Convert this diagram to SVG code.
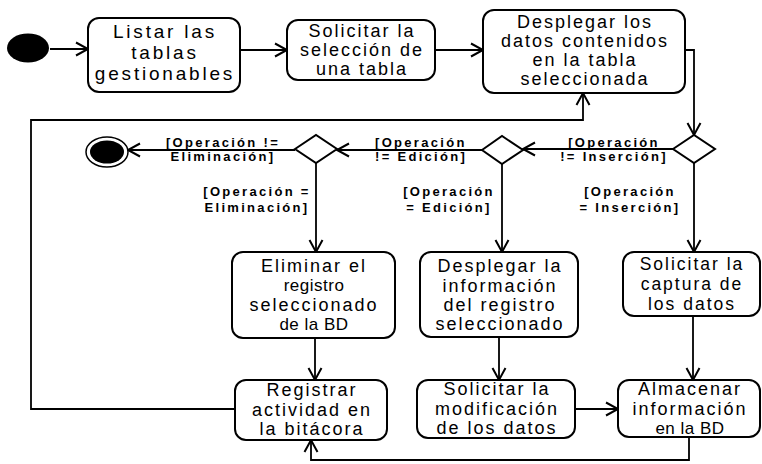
<svg xmlns="http://www.w3.org/2000/svg" width="762" height="464" viewBox="0 0 762 464">
<defs>
<style>
.node{fill:#fff;stroke:#000;stroke-width:2}
.t{font-family:"Liberation Sans",Arial,sans-serif;font-size:18px;letter-spacing:2px;text-anchor:middle;fill:#000}
.t1{font-size:19px;letter-spacing:2.8px}
.tn{font-size:17px;letter-spacing:0.5px}
.ts{font-size:17.5px}
.g{font-family:"Liberation Sans",Arial,sans-serif;font-size:13px;font-weight:bold;letter-spacing:2.3px;fill:#000}
.c{fill:none;stroke:#000;stroke-width:1.8}
.dia{fill:#fff;stroke:#000;stroke-width:2}
</style>
<marker id="a" markerUnits="userSpaceOnUse" markerWidth="16" markerHeight="16" refX="13" refY="8" orient="auto">
<path d="M1,1.5 L13,8 L1,14.5" fill="none" stroke="#000" stroke-width="2"/>
</marker>
</defs>
<rect width="762" height="464" fill="#fff"/>

<g id="connectors">
<path class="c" d="M50,49 H88" marker-end="url(#a)"/>
<path class="c" d="M240,50 H287" marker-end="url(#a)"/>
<path class="c" d="M435,50 H483" marker-end="url(#a)"/>
<path class="c" d="M685,50 H694 V135" marker-end="url(#a)"/>
<path class="c" d="M673,149 H523" marker-end="url(#a)"/>
<path class="c" d="M482,150 H337" marker-end="url(#a)"/>
<path class="c" d="M295,150 H128" marker-end="url(#a)"/>
<path class="c" d="M316,163 V252" marker-end="url(#a)"/>
<path class="c" d="M502,164 V252" marker-end="url(#a)"/>
<path class="c" d="M694,163 V252" marker-end="url(#a)"/>
<path class="c" d="M315,338 V380" marker-end="url(#a)"/>
<path class="c" d="M499,337 V380" marker-end="url(#a)"/>
<path class="c" d="M693,316 V380" marker-end="url(#a)"/>
<path class="c" d="M575,409 H618" marker-end="url(#a)"/>
<path class="c" d="M689,437 V460 H311 V440" marker-end="url(#a)"/>
<path class="c" d="M235,409 H31 V120 H583 V93" marker-end="url(#a)"/>
<text class="g" x="223" y="147" text-anchor="middle">[Operación !=</text>
<text class="g" x="223" y="161" text-anchor="middle">Eliminación]</text>
<text class="g" x="375" y="147">[Operación</text>
<text class="g" x="375" y="161">!= Edición]</text>
<text class="g" x="614" y="147" text-anchor="middle">[Operación</text>
<text class="g" x="614" y="161" text-anchor="middle">!= Inserción]</text>
<text class="g" x="257" y="196" text-anchor="middle">[Operación =</text>
<text class="g" x="257" y="212" text-anchor="middle">Eliminación]</text>
<text class="g" x="449" y="196" text-anchor="middle">[Operación</text>
<text class="g" x="449" y="212" text-anchor="middle">= Edición]</text>
<text class="g" x="630" y="196" text-anchor="middle">[Operación</text>
<text class="g" x="630" y="212" text-anchor="middle">= Inserción]</text>
</g>

<g id="start"><ellipse cx="28" cy="48" rx="21" ry="14.5" fill="#000"/></g>
<g id="end">
<ellipse cx="107" cy="152" rx="21" ry="15" fill="#fff" stroke="#000" stroke-width="1.5"/>
<ellipse cx="107" cy="152" rx="17" ry="11.5" fill="#000"/>
</g>

<g id="n1"><rect class="node" x="88" y="18" width="152" height="74" rx="11"/>
<text class="t t1" x="165"><tspan x="165" y="38">Listar las</tspan><tspan x="165" y="59">tablas</tspan><tspan x="165" y="80">gestionables</tspan></text></g>

<g id="n2"><rect class="node" x="287" y="20" width="148" height="60" rx="11"/>
<text class="t" x="362"><tspan x="362" y="37">Solicitar la</tspan><tspan x="362" y="56">selección de</tspan><tspan x="362" y="75">una tabla</tspan></text></g>

<g id="n3"><rect class="node" x="483" y="10" width="202" height="83" rx="11"/>
<text class="t" x="585"><tspan x="585" y="28">Desplegar los</tspan><tspan x="585" y="47">datos contenidos</tspan><tspan x="585" y="66">en la tabla</tspan><tspan x="585" y="85">seleccionada</tspan></text></g>

<g id="dR"><polygon class="dia" points="673,149 694,135 715,149 694,163"/></g>
<g id="dM"><polygon class="dia" points="482,150 502,136 523,150 502,164"/></g>
<g id="dL"><polygon class="dia" points="295,149 316,135 337,149 316,163"/></g>

<g id="n4"><rect class="node" x="232" y="252" width="163" height="86" rx="11"/>
<text class="t" x="314"><tspan x="314" y="272">Eliminar el</tspan><tspan class="tn" x="314" y="291">registro</tspan><tspan x="314" y="311">seleccionado</tspan><tspan class="tn" x="314" y="330">de la BD</tspan></text></g>

<g id="n5"><rect class="node" x="420" y="252" width="158" height="85" rx="11"/>
<text class="t" x="500"><tspan x="500" y="272">Desplegar la</tspan><tspan x="500" y="292">información</tspan><tspan x="500" y="311">del registro</tspan><tspan x="500" y="330">seleccionado</tspan></text></g>

<g id="n6"><rect class="node" x="623" y="252" width="137" height="64" rx="11"/>
<text class="t ts" x="692"><tspan x="692" y="270">Solicitar la</tspan><tspan x="692" y="290">captura de</tspan><tspan x="692" y="310">los datos</tspan></text></g>

<g id="n7"><rect class="node" x="235" y="380" width="152" height="60" rx="11"/>
<text class="t" x="312"><tspan x="312" y="396">Registrar</tspan><tspan x="312" y="416">actividad en</tspan><tspan x="312" y="435">la bitácora</tspan></text></g>

<g id="n8"><rect class="node" x="417" y="380" width="158" height="58" rx="11"/>
<text class="t" x="497"><tspan x="497" y="395">Solicitar la</tspan><tspan x="497" y="415">modificación</tspan><tspan x="497" y="434">de los datos</tspan></text></g>

<g id="n9"><rect class="node" x="618" y="380" width="142" height="57" rx="11"/>
<text class="t" x="690"><tspan x="690" y="395">Almacenar</tspan><tspan x="690" y="415">información</tspan><tspan class="tn" x="690" y="434">en la BD</tspan></text></g>
</svg>
